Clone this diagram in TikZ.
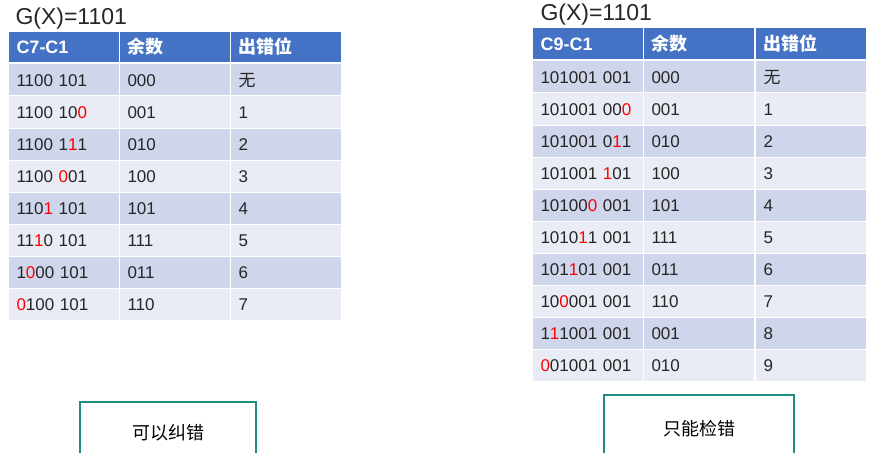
\documentclass[tikz,border=0pt]{standalone}
\usepackage{fontspec}
\setmainfont{Liberation Sans}
\newfontfamily\cjk{Noto Sans CJK SC}

\definecolor{hdblue}{RGB}{68,114,196}
\definecolor{banddark}{RGB}{207,213,234}
\definecolor{bandlight}{RGB}{233,235,245}
\definecolor{errred}{RGB}{255,0,0}
\definecolor{boxteal}{RGB}{32,140,130}
\definecolor{celltext}{RGB}{38,38,38}
\newcommand{\errbit}[1]{\textcolor{errred}{#1}}

\tikzset{every picture/.style={line width=0.75pt},
  cellbase/.style={anchor=north west, text width=70.5pt, inner xsep=6pt, inner ysep=0pt,
    minimum height=23.25pt, text height=9.13pt, text depth=0pt, align=left,
    text=celltext, font=\fontsize{12.75}{15}\selectfont},
  dark/.style={cellbase, fill=banddark},
  light/.style={cellbase, fill=bandlight},
  head/.style={cellbase, fill=hdblue, minimum height=22.5pt, text height=9.7pt, text=white,
    font=\fontsize{13.5}{16}\selectfont\bfseries},
  title/.style={anchor=base west, inner sep=0pt, text=celltext, font=\fontsize{17.25}{20}\selectfont},
  verdict/.style={draw=boxteal, line width=1.9pt, inner sep=0pt, text=black,
    font=\fontsize{13.5}{16}\selectfont\cjk}}

\begin{document}
\begin{tikzpicture}[x=0.75pt,y=0.75pt,yscale=-1,xscale=1]
\clip (0,0) rectangle (878,453);
\fill[white] (0,0) rectangle (878,453);

% Left table: C7-C1
\node[title] (ltitle) at (15,25) {G(X)=1101};
\node[head] (lh1) at (8,32) {C7-C1};   \node[head] (lh2) at (119,32) {\cjk 余数};   \node[head] (lh3) at (230,32) {\cjk 出错位};
\node[dark] (l1a) at (8,64) {1100 101};  \node[dark] (l1b) at (119,64) {000};  \node[dark] (l1c) at (230,64) {\cjk 无};
\node[light] (l2a) at (8,96) {1100 10\errbit{0}};  \node[light] (l2b) at (119,96) {001};  \node[light] (l2c) at (230,96) {1};
\node[dark] (l3a) at (8,128) {1100 1\errbit{1}1};  \node[dark] (l3b) at (119,128) {010};  \node[dark] (l3c) at (230,128) {2};
\node[light] (l4a) at (8,160) {1100 \errbit{0}01};  \node[light] (l4b) at (119,160) {100};  \node[light] (l4c) at (230,160) {3};
\node[dark] (l5a) at (8,192) {110\errbit{1} 101};  \node[dark] (l5b) at (119,192) {101};  \node[dark] (l5c) at (230,192) {4};
\node[light] (l6a) at (8,224) {11\errbit{1}0 101};  \node[light] (l6b) at (119,224) {111};  \node[light] (l6c) at (230,224) {5};
\node[dark] (l7a) at (8,256) {1\errbit{0}00 101};  \node[dark] (l7b) at (119,256) {011};  \node[dark] (l7c) at (230,256) {6};
\node[light] (l8a) at (8,288) {\errbit{0}100 101};  \node[light] (l8b) at (119,288) {110};  \node[light] (l8c) at (230,288) {7};

% Right table: C9-C1
\node[title] (rtitle) at (540,21) {G(X)=1101};
\node[head, minimum height=23.25pt] (rh1) at (532,28) {C9-C1};   \node[head, minimum height=23.25pt] (rh2) at (643,28) {\cjk 余数};   \node[head, minimum height=23.25pt] (rh3) at (755,28) {\cjk 出错位};
\node[dark] (r1a) at (532,61) {101001 001};  \node[dark] (r1b) at (643,61) {000};  \node[dark] (r1c) at (755,61) {\cjk 无};
\node[light] (r2a) at (532,93) {101001 00\errbit{0}};  \node[light] (r2b) at (643,93) {001};  \node[light] (r2c) at (755,93) {1};
\node[dark] (r3a) at (532,125) {101001 0\errbit{1}1};  \node[dark] (r3b) at (643,125) {010};  \node[dark] (r3c) at (755,125) {2};
\node[light] (r4a) at (532,157) {101001 \errbit{1}01};  \node[light] (r4b) at (643,157) {100};  \node[light] (r4c) at (755,157) {3};
\node[dark] (r5a) at (532,189) {10100\errbit{0} 001};  \node[dark] (r5b) at (643,189) {101};  \node[dark] (r5c) at (755,189) {4};
\node[light] (r6a) at (532,221) {1010\errbit{1}1 001};  \node[light] (r6b) at (643,221) {111};  \node[light] (r6c) at (755,221) {5};
\node[dark] (r7a) at (532,253) {101\errbit{1}01 001};  \node[dark] (r7b) at (643,253) {011};  \node[dark] (r7c) at (755,253) {6};
\node[light] (r8a) at (532,285) {10\errbit{0}001 001};  \node[light] (r8b) at (643,285) {110};  \node[light] (r8c) at (755,285) {7};
\node[dark] (r9a) at (532,317) {1\errbit{1}1001 001};  \node[dark] (r9b) at (643,317) {001};  \node[dark] (r9c) at (755,317) {8};
\node[light] (r10a) at (532,349) {\errbit{0}01001 001};  \node[light] (r10b) at (643,349) {010};  \node[light] (r10c) at (755,349) {9};

% Verdict boxes
\node[verdict, minimum width=132pt, minimum height=46.5pt] (lverdict) at (168,433) {可以纠错};
\node[verdict, minimum width=142.5pt, minimum height=51pt] (rverdict) at (699,429) {只能检错};

\end{tikzpicture}
\end{document}
